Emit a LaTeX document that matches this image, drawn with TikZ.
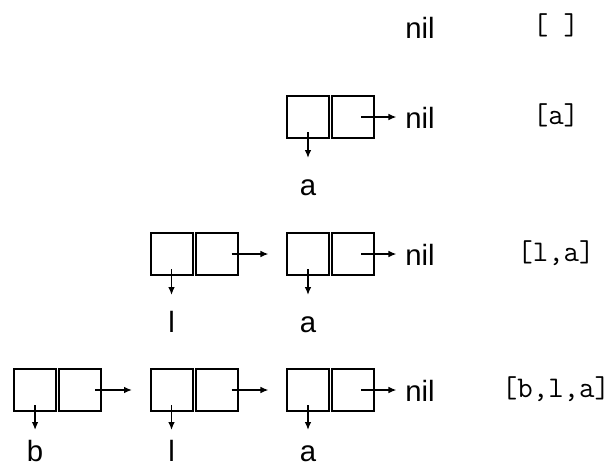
\documentclass[tikz,border=0pt]{standalone}
\usepackage{fontspec}
\setsansfont{Liberation Sans}
\usetikzlibrary{arrows.meta,positioning}

\begin{document}
\begin{tikzpicture}[x=0.75pt, y=-0.75pt,
  cell/.style={draw, line width=1.5pt, minimum size=31.5pt, inner sep=0pt, outer sep=0pt},
  ptr/.style={-{Latex[length=6pt,width=5pt]}, line width=1.1pt},
  lbl/.style={font=\fontsize{22}{26}\selectfont\sffamily, inner sep=0pt},
  lst/.style={font=\fontsize{22.5}{26}\selectfont\ttfamily, anchor=base, inner sep=0pt}]
\useasboundingbox (0,0) rectangle (610,468);

% Row 1: empty list
\node[lbl, anchor=base west] (nil1) at (405,38) {nil};
\node[lst] (list1) at (556,34) {[ ]};

% Row 2: [a]
\node[cell] (a2h) at (308,117) {};
\node[cell, right=2.25pt of a2h] (a2t) {};
\node[lbl, anchor=base west] (nil2) at (405,128) {nil};
\node[lbl, anchor=base] (a2v) at (308,195) {a};
\draw[ptr, shorten >=6.4pt] ([xshift=6pt]a2t.center) -- (nil2.west |- a2t.center);
\draw[ptr] ([yshift=-11.25pt]a2h.center) -- ([yshift=27.75pt]a2v.base);
\node[lst] (list2) at (556,124) {[a]};

% Row 3: [l,a]
\node[cell] (a3h) at (308,254) {};
\node[cell, right=2.25pt of a3h] (a3t) {};
\node[cell, left=37.1pt of a3h] (l3t) {};
\node[cell, left=2.25pt of l3t] (l3h) {};
\node[lbl, anchor=base west] (nil3) at (405,265) {nil};
\node[lbl, anchor=base] (a3v) at (308,332) {a};
\node[lbl, anchor=base] (l3v) at (l3h.center |- a3v.base) {l};
\draw[ptr, shorten >=13.9pt] ([xshift=11.25pt]l3t.center) -- (a3h.west);
\draw[ptr, shorten >=6.4pt] ([xshift=6pt]a3t.center) -- (nil3.west |- a3t.center);
\draw[ptr] ([yshift=-11.25pt]l3h.center) -- ([yshift=27.75pt]l3v.base);
\draw[ptr] ([yshift=-11.25pt]a3h.center) -- ([yshift=27.75pt]a3v.base);
\node[lst] (list3) at (556,261) {[l,a]};

% Row 4: [b,l,a]
\node[cell] (a4h) at (308,390) {};
\node[cell, right=2.25pt of a4h] (a4t) {};
\node[cell, left=37.1pt of a4h] (l4t) {};
\node[cell, left=2.25pt of l4t] (l4h) {};
\node[cell, left=37.1pt of l4h] (b4t) {};
\node[cell, left=2.25pt of b4t] (b4h) {};
\node[lbl, anchor=base west] (nil4) at (405,401) {nil};
\node[lbl, anchor=base] (a4v) at (308,461) {a};
\node[lbl, anchor=base] (l4v) at (l4h.center |- a4v.base) {l};
\node[lbl, anchor=base] (b4v) at (b4h.center |- a4v.base) {b};
\draw[ptr, shorten >=13.9pt] ([xshift=11.25pt]b4t.center) -- (l4h.west);
\draw[ptr, shorten >=13.9pt] ([xshift=11.25pt]l4t.center) -- (a4h.west);
\draw[ptr, shorten >=6.4pt] ([xshift=6pt]a4t.center) -- (nil4.west |- a4t.center);
\draw[ptr] ([yshift=-11.25pt]b4h.center) -- ([yshift=23.25pt]b4v.base);
\draw[ptr] ([yshift=-11.25pt]l4h.center) -- ([yshift=23.25pt]l4v.base);
\draw[ptr] ([yshift=-11.25pt]a4h.center) -- ([yshift=23.25pt]a4v.base);
\node[lst] (list4) at (556,397) {[b,l,a]};
\end{tikzpicture}
\end{document}
